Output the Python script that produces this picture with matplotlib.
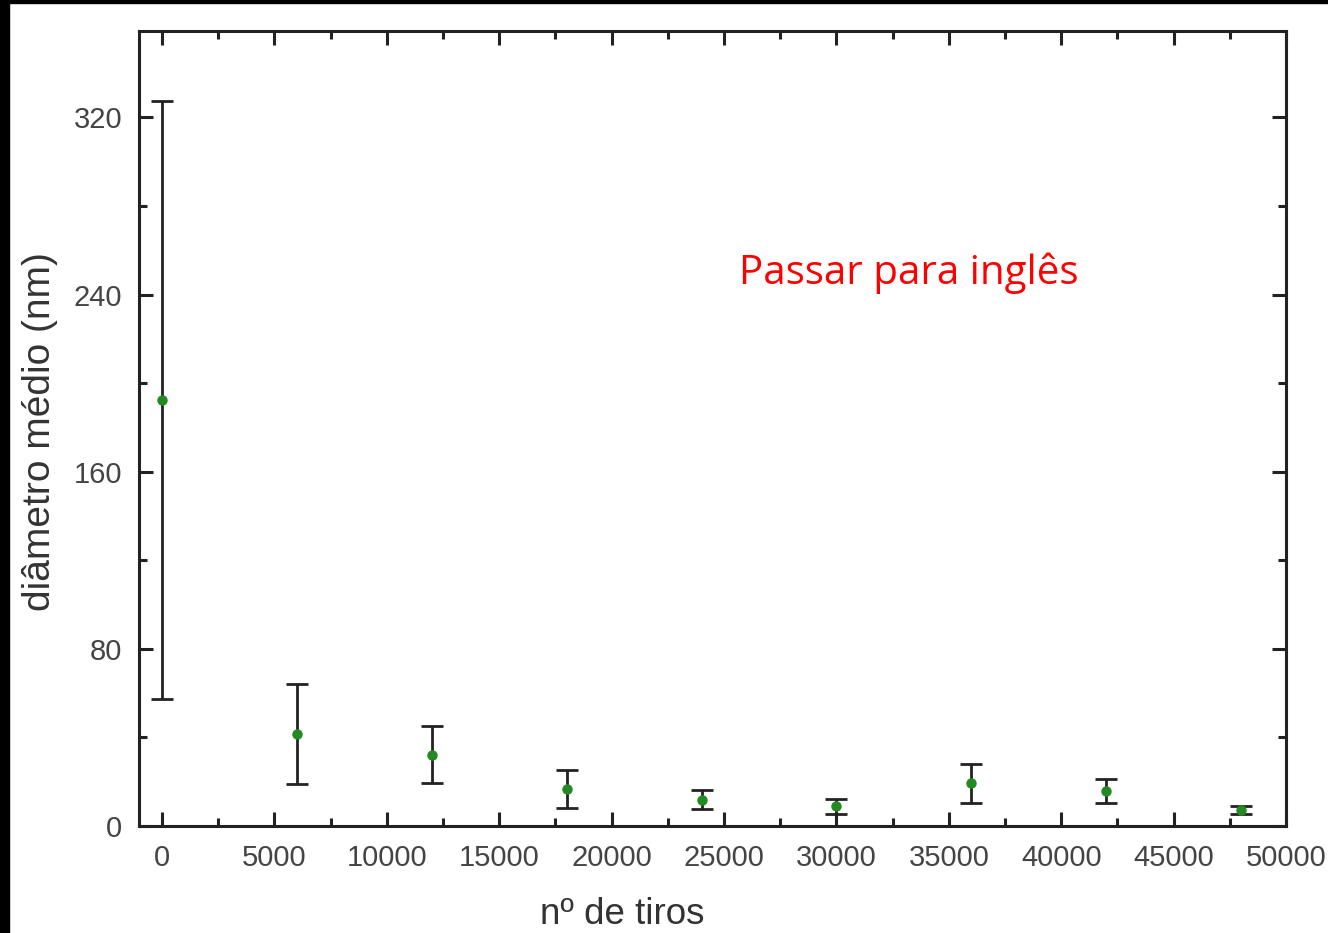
import matplotlib
matplotlib.use('Agg')
import matplotlib.pyplot as plt
from matplotlib.patches import Rectangle
from matplotlib.ticker import MultipleLocator

# Mean diameter vs number of shots
shots = [0, 6000, 12000, 18000, 24000, 30000, 36000, 42000, 48000]
diameter = [192.5, 41.6, 32.1, 16.7, 11.8, 9.0, 19.4, 15.8, 7.2]
diameter_err = [135, 22.6, 12.9, 8.6, 4.3, 3.4, 8.8, 5.4, 2.0]

x_ticks = [0, 5000, 10000, 15000, 20000, 25000, 30000, 35000, 40000, 45000, 50000]
y_ticks = [0, 80, 160, 240, 320]

plt.rcParams['font.family'] = ['Liberation Sans', 'DejaVu Sans']

fig = plt.figure(figsize=(13.28, 9.33), dpi=100)
ax = fig.add_axes([0.1047, 0.1147, 0.8637, 0.8521])

ax.errorbar(shots, diameter, yerr=diameter_err, fmt='o', color='#238a23',
            markersize=6.5, ecolor='#222222', elinewidth=2, capsize=8, capthick=2)

ax.set_xlim(-1020, 50000)
ax.set_ylim(0, 359)
ax.set_xticks(x_ticks)
ax.set_yticks(y_ticks)
ax.xaxis.set_minor_locator(MultipleLocator(2500))
ax.yaxis.set_minor_locator(MultipleLocator(40))

for s in ax.spines.values():
    s.set_linewidth(2.2)
    s.set_color('#222222')

ax.tick_params(which='both', direction='in', top=True, right=True,
               color='#222222', width=2.2)
ax.tick_params(which='major', length=10, labelsize=21, labelcolor='#444444')
ax.tick_params(which='minor', length=5.5)
ax.tick_params(axis='x', which='major', pad=13)
ax.tick_params(axis='y', which='major', pad=12)

ax.set_xlabel('nº de tiros', fontsize=26.5, color='#333333')
ax.xaxis.set_label_coords(0.421, -0.089)
ax.set_ylabel('diâmetro médio (nm)', fontsize=28, color='#333333')
ax.yaxis.set_label_coords(-0.0706, 0.4956)

ax.text(0.523, 0.695, 'Passar para inglês', transform=ax.transAxes,
        color='#ff0000', fontsize=29, family=['Open Sans', 'DejaVu Sans'],
        ha='left', va='center')

# black border strips from the screenshot
fig.add_artist(Rectangle((0, 0), 0.0065, 1, transform=fig.transFigure,
                         color='black', zorder=10))
fig.add_artist(Rectangle((0, 0.9968), 1, 0.0032, transform=fig.transFigure,
                         color='black', zorder=10))

fig.savefig('out.png', dpi=100)
